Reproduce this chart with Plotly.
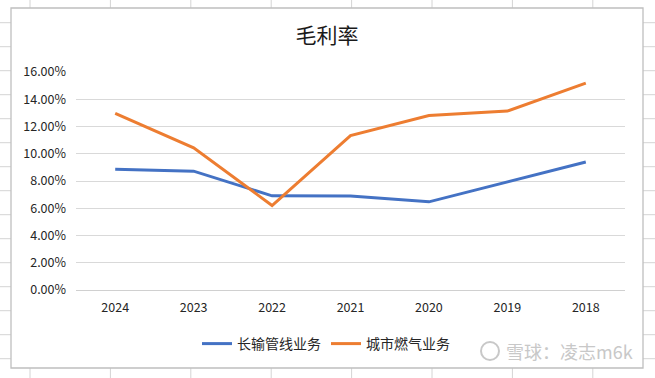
import plotly.graph_objects as go

# ---- data ----
years = ["2024", "2023", "2022", "2021", "2020", "2019", "2018"]
pipeline_margin = [0.0886, 0.0872, 0.0691, 0.0689, 0.0647, 0.0796, 0.0940]
citygas_margin = [0.1297, 0.1043, 0.0620, 0.1133, 0.1280, 0.1313, 0.1518]
series_names = ["长输管线业务", "城市燃气业务"]
title_text = "毛利率"
watermark_text = "雪球：凌志m6k"

# ---- layout geometry (pixels) ----
FIG_W, FIG_H = 655, 378
PL, PR, PT, PB = 76, 625, 72, 290  # plot area box
PW, PH = PR - PL, PB - PT


def px(x):
    return (x - PL) / PW


def py(y):
    return (PB - y) / PH


fig = go.Figure()
fig.add_trace(go.Scatter(x=years, y=pipeline_margin, mode="lines", name=series_names[0],
                         line=dict(color="#4472C4", width=3)))
fig.add_trace(go.Scatter(x=years, y=citygas_margin, mode="lines", name=series_names[1],
                         line=dict(color="#ED7D31", width=3)))

shapes = []
sheet_color = "#D4D4D4"
# spreadsheet background grid
for i in range(8):
    xv = 30 + i * 80.4
    shapes.append(dict(type="line", xref="paper", yref="paper", x0=px(xv), x1=px(xv),
                       y0=py(0), y1=py(FIG_H), line=dict(color=sheet_color, width=1), layer="below"))
for j in range(15):
    yv = 22.7 + j * 24
    shapes.append(dict(type="line", xref="paper", yref="paper", x0=px(0), x1=px(FIG_W),
                       y0=py(yv), y1=py(yv), line=dict(color=sheet_color, width=1), layer="below"))
# chart area
shapes.append(dict(type="rect", xref="paper", yref="paper", x0=px(11), x1=px(643),
                   y0=py(368), y1=py(8), line=dict(color="#BFBFBF", width=1.3),
                   fillcolor="white", layer="below"))
# watermark logo circle
shapes.append(dict(type="circle", xref="paper", yref="paper", x0=px(481), x1=px(499),
                   y0=py(360), y1=py(342), line=dict(color="#C8C8C8", width=2), layer="above"))

fig.update_layout(
    width=FIG_W, height=FIG_H, autosize=False,
    margin=dict(l=PL, r=FIG_W - PR, t=PT, b=FIG_H - PB, pad=0),
    paper_bgcolor="white", plot_bgcolor="rgba(0,0,0,0)",
    font=dict(family="Noto Sans CJK SC, Noto Sans, sans-serif", color="#262626"),
    title=dict(text=title_text, x=px(327), xref="paper", xanchor="center",
               y=1 - 36 / FIG_H, yref="container", yanchor="middle",
               font=dict(size=21, color="#1a1a1a")),
    showlegend=True,
    legend=dict(orientation="h", x=px(326), xanchor="center", y=py(344), yanchor="middle",
                font=dict(size=14, color="#262626"), bgcolor="rgba(0,0,0,0)",
                itemwidth=30, tracegroupgap=0),
    xaxis=dict(type="category", categoryorder="array", categoryarray=years,
               range=[-0.5, 6.5], showgrid=False, showline=True, linecolor="#D0D0D0",
               linewidth=1, ticks="", tickfont=dict(size=12.5, color="#262626"),
               ticklabelstandoff=6, fixedrange=True),
    yaxis=dict(range=[0, 0.16], dtick=0.02, tickformat=".2%", showgrid=True,
               gridcolor="#D9D9D9", gridwidth=1, zeroline=True, zerolinecolor="#D0D0D0",
               zerolinewidth=1, showline=False, ticks="",
               tickfont=dict(size=12.5, color="#262626"), ticklabelstandoff=9,
               fixedrange=True),
    shapes=shapes,
    annotations=[dict(text=watermark_text, xref="paper", yref="paper", x=px(504), y=py(351),
                      xanchor="left", yanchor="middle", showarrow=False,
                      font=dict(size=18, color="#C8C8C8"))],
)

fig.write_html("out.html", config={"displayModeBar": False, "staticPlot": True},
               post_script="document.body.style.margin='0';document.body.style.overflow='hidden';")
